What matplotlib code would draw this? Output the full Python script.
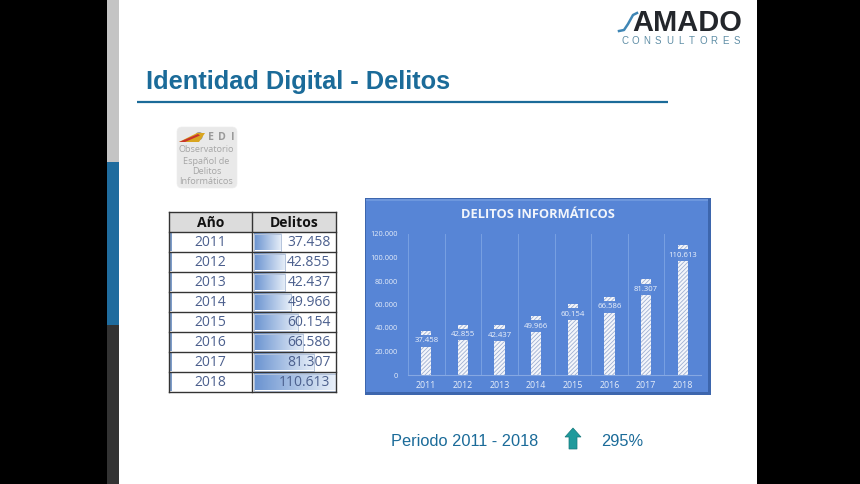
import numpy as np
import matplotlib
matplotlib.use('Agg')
import matplotlib.pyplot as plt
from matplotlib.patches import Rectangle, FancyBboxPatch, Polygon

years = ['2011', '2012', '2013', '2014', '2015', '2016', '2017', '2018']
delitos = [37458, 42855, 42437, 49966, 60154, 66586, 81307, 110613]
delitos_txt = ['37.458', '42.855', '42.437', '49.966', '60.154', '66.586', '81.307', '110.613']
y_ticks = [0, 20000, 40000, 60000, 80000, 100000, 120000]
y_tick_labels = ['0', '20.000', '40.000', '60.000', '80.000', '100.000', '120.000']

W, H = 860, 484
BLUE = '#1b6b99'
PANEL = '#5785d6'

fig = plt.figure(figsize=(W / 100, H / 100), dpi=100, facecolor='white')

# capa de fondo en pixeles
bg = fig.add_axes([0, 0, 1, 1])
bg.set_xlim(0, W)
bg.set_ylim(H, 0)
bg.axis('off')


def rect(x0, y0, x1, y1, **kw):
    r = Rectangle((x0, y0), x1 - x0, y1 - y0, **kw)
    bg.add_patch(r)
    return r


def gradient(x0, y0, x1, y1, c0, c1, zorder=2):
    c0 = np.array(matplotlib.colors.to_rgb(c0))
    c1 = np.array(matplotlib.colors.to_rgb(c1))
    t = np.linspace(0, 1, 64)[:, None]
    img = (c0 * (1 - t) + c1 * t)[None, :, :]
    bg.imshow(img, extent=(x0, x1, y1, y0), aspect='auto', zorder=zorder)
    bg.set_xlim(0, W)
    bg.set_ylim(H, 0)


# bordes negros y franja lateral
rect(0, 0, 107, H, fc='black', ec='none')
rect(757, 0, W, H, fc='black', ec='none')
rect(107, 0, 119, 162, fc='#c4c4c4', ec='none')
rect(107, 162, 119, 325, fc='#1f6c9e', ec='none')
rect(107, 325, 119, H, fc='#333333', ec='none')

# titulo
bg.text(146, 82, 'Identidad Digital - Delitos', fontsize=18.25, fontweight='bold',
        family='Liberation Sans', color=BLUE, va='center', ha='left')
bg.plot([137, 668], [102, 102], color=BLUE, lw=1.6, solid_capstyle='butt')

# logo
bg.text(632, 23, 'AMADO', fontsize=20.9, family='Liberation Sans', color='#23262b',
        va='center', ha='left', fontweight='bold')
swoosh = np.array([[619, 31], [624, 30], [628, 24], [633, 15], [637, 13]])
bg.plot(swoosh[:, 0], swoosh[:, 1], color='#3f86b5', lw=1.8)
for i, ch in enumerate('CONSULTORES'):
    bg.text(624.5 + i * 11.2, 40.5, ch, fontsize=7, family='Liberation Sans', color='#5f8ea6',
            ha='center', va='center')

# logo OEDI
bg.add_patch(FancyBboxPatch((177, 127), 60, 61, boxstyle='round,pad=0,rounding_size=5',
                            fc='#e9e9e9', ec='#eeeeee', lw=0.5))
bg.text(199, 137.5, 'O', fontsize=7.6, color='#9a9a9a', ha='center', va='center', family='Open Sans',
        fontweight='bold', zorder=2)
bg.add_patch(Polygon([[179, 142], [197, 133], [205, 133], [199, 142]], fc='#d9a520', ec='none', zorder=3))
bg.add_patch(Polygon([[179, 142], [198, 134], [200, 135.5], [185, 142]], fc='#c9342b', ec='none', zorder=3))
for i, ch in enumerate('EDI'):
    bg.text(211 + i * 11, 137.5, ch, fontsize=7.6, color='#9a9a9a', ha='center', va='center', family='Open Sans',
            fontweight='bold')
for yy, line in zip([150, 161, 171, 181], ['Observatorio', 'Español de', 'Delitos', 'Informáticos']):
    bg.text(206.5, yy, line, fontsize=6.6, color='#a6a6a6', ha='center', va='center', family='Open Sans')

# tabla
tx0, txm, tx1 = 169, 252, 336
ty0, row_h = 212, 20
rect(tx0, ty0, tx1, ty0 + row_h, fc='#dcdcdc', ec='none')
bg.text((tx0 + txm) / 2, ty0 + 11, 'Año', fontsize=10, fontweight='bold', family='Open Sans',
        color='#111111', ha='center', va='center')
bg.text((txm + tx1) / 2, ty0 + 11, 'Delitos', fontsize=10, fontweight='bold', family='Open Sans',
        color='#111111', ha='center', va='center')
max_w = 82
for i, (yr, v, txt) in enumerate(zip(years, delitos, delitos_txt)):
    top = ty0 + row_h * (i + 1)
    w = max_w * v / max(delitos)
    gradient(253.5, top + 1.5, 253.5 + w, top + row_h - 1.5, '#6a93d0', '#e9f0f9')
    rect(253.5, top + 1.5, 253.5 + w, top + row_h - 1.5, fc='none', ec='#b5c4dc', lw=0.7, zorder=3)
    rect(tx0 + 1, top + 1, tx0 + 2.5, top + row_h - 1, fc='#7d9cc8', ec='none', zorder=3)
    bg.text((tx0 + txm) / 2, top + 11, yr, fontsize=10, family='Open Sans', color='#4b5f8d',
            ha='center', va='center', zorder=4)
    bg.text(330.5, top + 11, txt, fontsize=10, family='Open Sans', color='#4b5f8d',
            ha='right', va='center', zorder=4)
n_rows = len(years) + 1
for i in range(n_rows + 1):
    bg.plot([tx0, tx1], [ty0 + i * row_h] * 2, color='#333333', lw=1.0, zorder=5)
for xx in (tx0, txm, tx1):
    bg.plot([xx, xx], [ty0, ty0 + n_rows * row_h], color='#333333', lw=1.0, zorder=5)

# panel del grafico
rect(365, 198, 711, 395, fc='#3d66ad', ec='none')
rect(366, 199, 708, 392, fc=PANEL, ec='none')
rect(366, 199, 708, 201, fc='#6d97dd', ec='none')
bg.text(537.5, 215, 'DELITOS INFORMÁTICOS', fontsize=9.3, fontweight='bold', family='Open Sans',
        color='#f2f5fb', ha='center', va='center')

# grafico de barras
px0, px1 = 408, 701
py_top, py_bot = 234, 375
ax = fig.add_axes([px0 / W, 1 - py_bot / H, (px1 - px0) / W, (py_bot - py_top) / H])
ax.patch.set_alpha(0)
x = np.arange(len(years))
matplotlib.rcParams['hatch.linewidth'] = 0.6
ax.bar(x, delitos, width=0.28, facecolor='#f4f6fb', edgecolor='#9fb0d2', hatch='////////', lw=0, zorder=2)
for xi, v, txt in zip(x, delitos, delitos_txt):
    ax.annotate(txt, (xi, v), xytext=(0, -10 * 0.72), textcoords='offset points', ha='center', va='center',
                fontsize=5.6, family='Open Sans', color='#eef3fb', zorder=4,
                bbox=dict(boxstyle='square,pad=0.3', fc=PANEL, ec='none', alpha=0.95))
ax.set_xlim(-0.5, len(years) - 0.5)
ax.set_ylim(0, 120000)
ax.set_yticks(y_ticks)
ax.set_yticklabels(y_tick_labels)
ax.set_xticks(x)
ax.set_xticklabels(years)
for s in ('top', 'right', 'left'):
    ax.spines[s].set_visible(False)
ax.spines['bottom'].set_color('#86a8e2')
ax.spines['bottom'].set_linewidth(0.8)
ax.tick_params(axis='both', length=0, colors='#e6edf9')
ax.tick_params(axis='y', labelsize=5.3, pad=7)
ax.tick_params(axis='x', labelsize=6.4, pad=4.5)
for lab in ax.get_yticklabels():
    lab.set_family('Open Sans')
for lab in ax.get_xticklabels():
    lab.set_family('Open Sans')
for b in np.arange(-0.5, len(years)):
    ax.axvline(b, color='#79a0e2', lw=0.7, zorder=1)

# pie de la diapositiva
bg.text(391, 441, 'Periodo 2011 - 2018', fontsize=11.75, family='Liberation Sans', color=BLUE,
        ha='left', va='center')
bg.text(601, 441, '295%', fontsize=11.75, family='Liberation Sans', color=BLUE, ha='left', va='center')
bg.add_patch(Polygon([[573, 428], [581, 437], [577, 437], [577, 449], [569, 449], [569, 437], [565, 437]],
                     fc='#1f9a9c', ec='#15787c', lw=0.5))

fig.savefig('out.png', dpi=100)
